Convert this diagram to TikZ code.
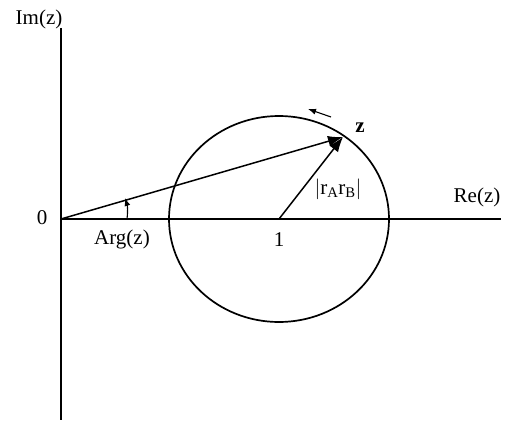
\documentclass[tikz,border=0pt]{standalone}
\usepackage{fontspec}
\setmainfont{Liberation Serif}
\usepackage{tikz}
\usetikzlibrary{arrows.meta, positioning, calc}
\tikzset{
    axis_line/.style={line width=1.7pt},
    curve_line/.style={line width=1.7pt},
    vec_arrow/.style={-{Latex[length=15pt, width=11pt]}, line width=1.5pt},
    small_arrow/.style={-{Latex[length=8pt, width=6pt]}, line width=1.1pt},
    lbl/.style={font=\fontsize{21}{24}\selectfont, inner sep=0pt}
}
\begin{document}
\begin{tikzpicture}[x=1pt, y=-1pt]
            \useasboundingbox (0,0) rectangle (505,420);
            % Points
            \coordinate (origin) at (61,219);
            \coordinate (one) at (279,219);
            \coordinate (zpt) at (343,137);
            \coordinate (imtop) at (61,28);
            \coordinate (imbot) at (61,420);
            \coordinate (reend) at (501,219);
            \coordinate (argfoot) at (127,219);
            \coordinate (argtip) at (125,198);
            \coordinate (movefrom) at (331,117);
            \coordinate (moveto) at (308,109);

            % Axes
            \draw [axis_line] (imtop) -- (imbot);
            \draw [axis_line] (origin) -- (reend);

            % Circle round 1
            \draw [curve_line] (one) ellipse [x radius=110, y radius=103];

            % Vectors
            \draw [vec_arrow] (origin) -- (zpt);
            \draw [vec_arrow] (one) -- (zpt);
            \draw [small_arrow] (argfoot) to[bend right=12] (argtip);
            \draw [small_arrow] (movefrom) -- (moveto);

            % Labels
            \node (imlabel) [lbl] at (39,19) {Im(z)};
            \node (relabel) [lbl] at (477,197) {Re(z)};
            \node (zerolabel) [lbl] at (42,218) {0};
            \node (onelabel) [lbl] at (279,240) {1};
            \node (arglabel) [lbl] at (122,239) {Arg(z)};
            \node (modlabel) [lbl] at (338,189) {$|$r$_{\mathrm{A}}$r$_{\mathrm{B}}|$};
            \node (zlabel) [lbl, font=\fontsize{21}{24}\selectfont\bfseries] at (360,128) {z};
\end{tikzpicture}
\end{document}
